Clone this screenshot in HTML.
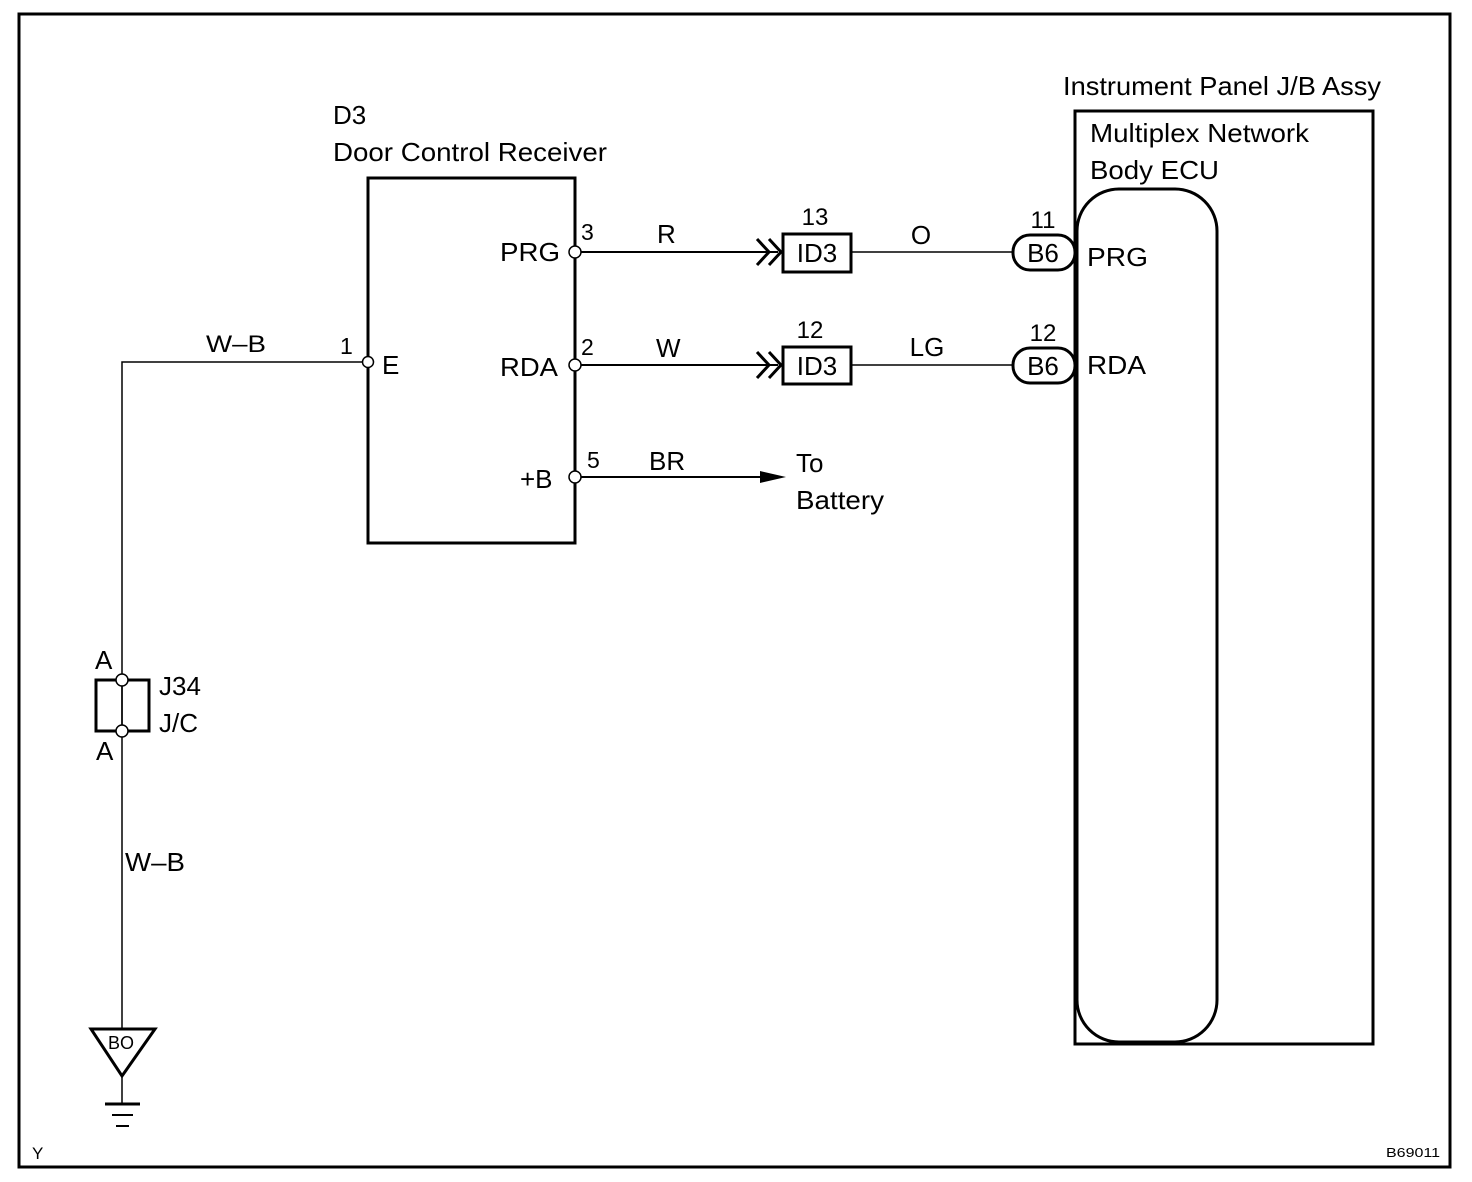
<!DOCTYPE html>
<html><head><meta charset="utf-8"><style>
html,body{margin:0;padding:0;background:#fff;}
svg{display:block;}
text{font-family:"Liberation Sans",Arial,sans-serif;fill:#000;}
</style></head><body>
<svg width="1472" height="1182" viewBox="0 0 1472 1182" xmlns="http://www.w3.org/2000/svg">
<rect x="19" y="14" width="1431" height="1153" fill="none" stroke="#000" stroke-width="3"/>

<text x="333" y="124" font-size="26">D3</text>
<text x="333" y="161" font-size="26" textLength="274" lengthAdjust="spacingAndGlyphs">Door Control Receiver</text>
<rect x="368" y="178" width="207" height="365" fill="none" stroke="#000" stroke-width="3"/>

<polyline points="368,362 122,362 122,1030" fill="none" stroke="#000" stroke-width="1.5"/>
<circle cx="368" cy="362" r="5.5" fill="#fff" stroke="#000" stroke-width="1.5"/>
<text x="340" y="354" font-size="23">1</text>
<text x="382" y="374" font-size="26">E</text>
<text x="206" y="352" font-size="24" textLength="60" lengthAdjust="spacingAndGlyphs">W–B</text>

<line x1="575" y1="252" x2="778" y2="252" stroke="#000" stroke-width="2"/>
<line x1="575" y1="365" x2="778" y2="365" stroke="#000" stroke-width="2"/>
<line x1="575" y1="477" x2="765" y2="477" stroke="#000" stroke-width="2"/>
<polygon points="760,471 786,477 760,483" fill="#000"/>
<circle cx="575" cy="252" r="6" fill="#fff" stroke="#000" stroke-width="1.5"/>
<circle cx="575" cy="365" r="6" fill="#fff" stroke="#000" stroke-width="1.5"/>
<circle cx="575" cy="477" r="6" fill="#fff" stroke="#000" stroke-width="1.5"/>
<text x="500" y="261" font-size="26" textLength="60" lengthAdjust="spacingAndGlyphs">PRG</text>
<text x="500" y="376" font-size="26" textLength="58" lengthAdjust="spacingAndGlyphs">RDA</text>
<text x="520" y="488" font-size="26">+B</text>
<text x="581" y="240" font-size="23">3</text>
<text x="581" y="355" font-size="23">2</text>
<text x="587" y="468" font-size="23">5</text>
<text x="657" y="243" font-size="26">R</text>
<text x="656" y="357" font-size="26">W</text>
<text x="649" y="470" font-size="26">BR</text>
<text x="796" y="472" font-size="26">To</text>
<text x="796" y="509" font-size="26" textLength="88" lengthAdjust="spacingAndGlyphs">Battery</text>

<g fill="none" stroke="#000" stroke-width="3">
<polyline points="757,239 769,252 757,265"/>
<polyline points="769,239 781,252 769,265"/>
<polyline points="757,352 769,365 757,378"/>
<polyline points="769,352 781,365 769,378"/>
</g>
<rect x="783" y="234" width="68" height="38" fill="#fff" stroke="#000" stroke-width="3"/>
<rect x="783" y="347" width="68" height="37" fill="#fff" stroke="#000" stroke-width="3"/>
<text x="817" y="262" font-size="26" text-anchor="middle">ID3</text>
<text x="817" y="375" font-size="26" text-anchor="middle">ID3</text>
<text x="815" y="225" font-size="24" text-anchor="middle">13</text>
<text x="810" y="338" font-size="24" text-anchor="middle">12</text>
<line x1="851" y1="252" x2="1014" y2="252" stroke="#000" stroke-width="1.5"/>
<line x1="851" y1="365" x2="1014" y2="365" stroke="#000" stroke-width="1.5"/>
<text x="921" y="244" font-size="26" text-anchor="middle">O</text>
<text x="927" y="356" font-size="26" text-anchor="middle">LG</text>

<rect x="1013" y="235" width="62" height="35" rx="17" fill="#fff" stroke="#000" stroke-width="3"/>
<rect x="1013" y="348" width="62" height="35" rx="17" fill="#fff" stroke="#000" stroke-width="3"/>
<text x="1043" y="262" font-size="26" text-anchor="middle">B6</text>
<text x="1043" y="375" font-size="26" text-anchor="middle">B6</text>
<text x="1043" y="228" font-size="24" text-anchor="middle">11</text>
<text x="1043" y="341" font-size="24" text-anchor="middle">12</text>

<text x="1063" y="95" font-size="26" textLength="318" lengthAdjust="spacingAndGlyphs">Instrument Panel J/B Assy</text>
<rect x="1075" y="111" width="298" height="933" fill="none" stroke="#000" stroke-width="3"/>
<text x="1090" y="142" font-size="26" textLength="219" lengthAdjust="spacingAndGlyphs">Multiplex Network</text>
<text x="1090" y="179" font-size="26" textLength="129" lengthAdjust="spacingAndGlyphs">Body ECU</text>
<rect x="1077" y="189" width="140" height="853" rx="42" fill="none" stroke="#000" stroke-width="3"/>
<text x="1087" y="266" font-size="26" textLength="61" lengthAdjust="spacingAndGlyphs">PRG</text>
<text x="1087" y="374" font-size="26" textLength="59" lengthAdjust="spacingAndGlyphs">RDA</text>

<rect x="96" y="680" width="53" height="51" fill="none" stroke="#000" stroke-width="3"/>
<line x1="122" y1="680" x2="122" y2="731" stroke="#000" stroke-width="1.5"/>
<circle cx="122" cy="680" r="6" fill="#fff" stroke="#000" stroke-width="1.5"/>
<circle cx="122" cy="731" r="6" fill="#fff" stroke="#000" stroke-width="1.5"/>
<text x="95" y="669" font-size="26">A</text>
<text x="96" y="760" font-size="26">A</text>
<text x="159" y="695" font-size="26">J34</text>
<text x="159" y="732" font-size="26">J/C</text>
<text x="125" y="871" font-size="26" textLength="60" lengthAdjust="spacingAndGlyphs">W–B</text>

<polygon points="91,1029 155,1029 122,1076" fill="#fff" stroke="#000" stroke-width="3"/>
<text x="121" y="1049" font-size="18" text-anchor="middle">BO</text>
<line x1="122" y1="1076" x2="122" y2="1104" stroke="#000" stroke-width="1.5"/>
<line x1="105" y1="1104" x2="140" y2="1104" stroke="#000" stroke-width="3"/>
<line x1="112" y1="1115" x2="133" y2="1115" stroke="#000" stroke-width="2"/>
<line x1="116" y1="1126" x2="129" y2="1126" stroke="#000" stroke-width="2"/>

<text x="32" y="1159" font-size="17">Y</text>
<text x="1386" y="1157" font-size="13" textLength="54" lengthAdjust="spacingAndGlyphs">B69011</text>
</svg>
</body></html>
